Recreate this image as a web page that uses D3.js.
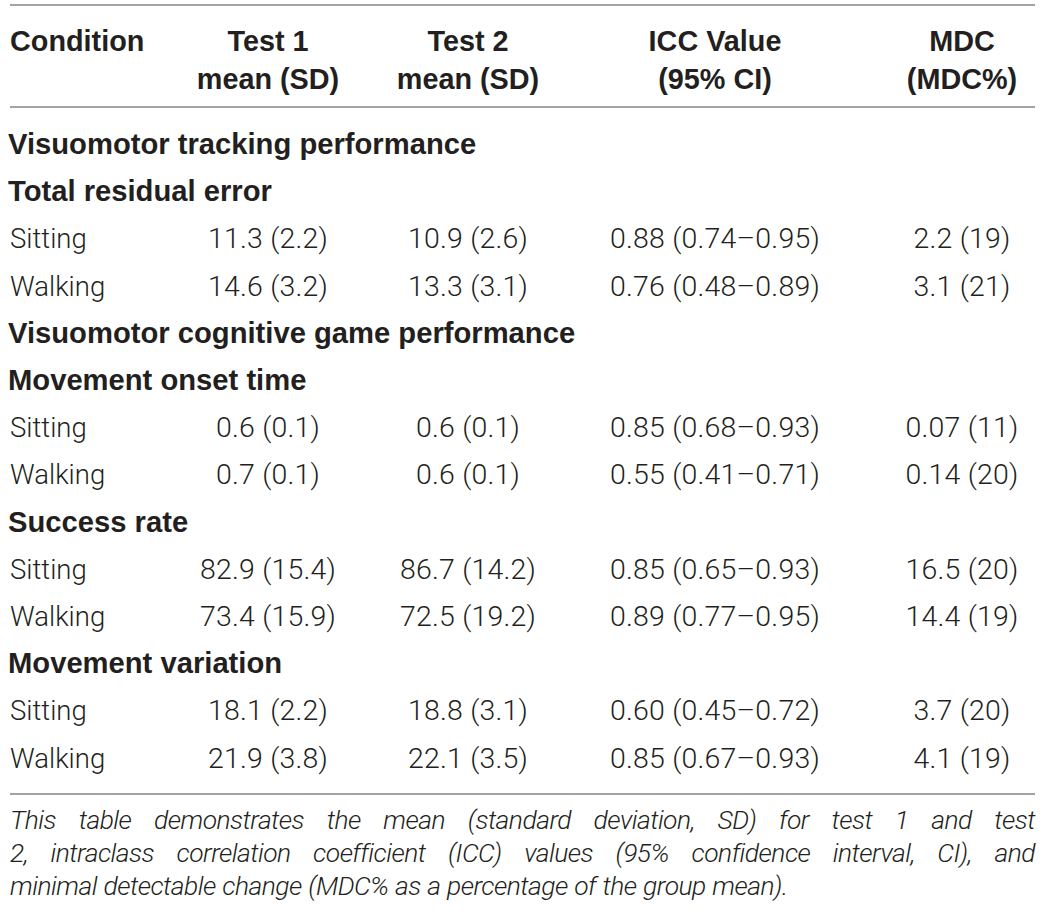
<!DOCTYPE html>
<html>
<head>
<meta charset="utf-8">
<script src="https://cdn.jsdelivr.net/npm/d3@7"></script>
<style>
  html, body { margin: 0; padding: 0; background: #fff; }
</style>
</head>
<body>
<div id="table-container"></div>
<script>
// -------------------- Data --------------------

const headerTop = ["Condition", "Test 1", "Test 2", "ICC Value", "MDC"];
const headerBottom = ["", "mean (SD)", "mean (SD)", "(95% CI)", "(MDC%)"];

const categories = ["Visuomotor tracking performance", "Visuomotor cognitive game performance"];
const measures = ["Total residual error", "Movement onset time", "Success rate", "Movement variation"];
// index of the category each measure belongs to
const measureCategory = [0, 1, 1, 1];
const conditions = ["Sitting", "Walking"];

// one pair [sitting, walking] per measure
const test1 = [["11.3 (2.2)", "14.6 (3.2)"], ["0.6 (0.1)", "0.7 (0.1)"], ["82.9 (15.4)", "73.4 (15.9)"], ["18.1 (2.2)", "21.9 (3.8)"]];
const test2 = [["10.9 (2.6)", "13.3 (3.1)"], ["0.6 (0.1)", "0.6 (0.1)"], ["86.7 (14.2)", "72.5 (19.2)"], ["18.8 (3.1)", "22.1 (3.5)"]];
const icc = [["0.88 (0.74–0.95)", "0.76 (0.48–0.89)"], ["0.85 (0.68–0.93)", "0.55 (0.41–0.71)"], ["0.85 (0.65–0.93)", "0.89 (0.77–0.95)"], ["0.60 (0.45–0.72)", "0.85 (0.67–0.93)"]];
const mdc = [["2.2 (19)", "3.1 (21)"], ["0.07 (11)", "0.14 (20)"], ["16.5 (20)", "14.4 (19)"], ["3.7 (20)", "4.1 (19)"]];

const captionLines = [
    "This table demonstrates the mean (standard deviation, SD) for test 1 and test",
    "2, intraclass correlation coefficient (ICC) values (95% confidence interval, CI), and",
    "minimal detectable change (MDC% as a percentage of the group mean)."
];

// -------------------- Layout --------------------

const WIDTH = 1045;
const HEIGHT = 918;
const LEFT = 10;
const RIGHT = 1035;
const INK = "#231f20";
const RULE = "#a3a3a3";
const BOLD_FONT = "'Liberation Sans', Arial, Helvetica, sans-serif";
const LIGHT_FONT = "'Roboto Light', Roboto, 'Open Sans', 'Liberation Sans', sans-serif";

const svg = d3.select("#table-container")
    .append("svg")
    .attr("width", WIDTH)
    .attr("height", HEIGHT)
    .attr("viewBox", [0, 0, WIDTH, HEIGHT]);

// Building the body rows out of the arrays
const rows = [];
measures.forEach((m, i) => {
    const cat = measureCategory[i];
    if (i === 0 || measureCategory[i - 1] !== cat) {
        rows.push({ type: "category", label: categories[cat] });
    }
    rows.push({ type: "measure", label: m });
    conditions.forEach((c, j) => {
        rows.push({ type: "value", label: c, cells: [test1[i][j], test2[i][j], icc[i][j], mdc[i][j]] });
    });
});

// Column centres and row baselines
const columns = headerTop.slice(1);
const xCol = d3.scaleOrdinal().domain(columns).range([268, 468, 715, 962]);
const yRow = d3.scaleLinear().domain([0, rows.length - 1]).range([154, 767.6]);
const yHead = d3.scaleLinear().domain([0, 1]).range([51, 89]);

// ***** RULES *****
svg.append("g")
    .attr("stroke", RULE)
    .attr("stroke-width", 2)
    .selectAll("line")
    .data([5, 107, 794])
    .join("line")
    .attr("x1", LEFT)
    .attr("x2", RIGHT)
    .attr("y1", d => d)
    .attr("y2", d => d);

// ***** HEADER *****
const head = svg.append("g")
    .attr("font-family", BOLD_FONT)
    .attr("font-weight", "bold")
    .attr("font-size", 28.8)
    .attr("fill", INK);

head.append("text")
    .attr("x", 10)
    .attr("y", yHead(0))
    .text(headerTop[0]);

columns.forEach((col, i) => {
    [headerTop[i + 1], headerBottom[i + 1]].forEach((t, k) => {
        head.append("text")
            .attr("x", xCol(col))
            .attr("y", yHead(k))
            .attr("text-anchor", "middle")
            .text(t);
    });
});

// ***** BODY *****
const body = svg.append("g").attr("fill", INK);

body.selectAll("text.label")
    .data(rows)
    .join("text")
    .attr("class", "label")
    .attr("x", d => d.type === "value" ? 10 : 8)
    .attr("y", (d, i) => yRow(i))
    .attr("font-family", d => d.type === "value" ? LIGHT_FONT : BOLD_FONT)
    .attr("font-weight", d => d.type === "value" ? 300 : "bold")
    .attr("font-size", d => d.type === "value" ? 27.5 : 29.2)
    .text(d => d.label);

const valueRows = rows.map((r, i) => ({ ...r, i })).filter(r => r.type === "value");
const cells = valueRows.flatMap(r => r.cells.map((v, k) => ({ v, col: columns[k], i: r.i })));

body.selectAll("text.cell")
    .data(cells)
    .join("text")
    .attr("class", "cell")
    .attr("x", d => xCol(d.col))
    .attr("y", d => yRow(d.i))
    .attr("text-anchor", "middle")
    .attr("font-family", LIGHT_FONT)
    .attr("font-weight", 300)
    .attr("font-size", 28.5)
    .attr("letter-spacing", 0.2)
    .text(d => d.v);

// ***** CAPTION *****
// Justified lines: words placed one by one so the gaps fill the width.
const cap = svg.append("g")
    .attr("font-family", LIGHT_FONT)
    .attr("font-weight", 300)
    .attr("font-style", "italic")
    .attr("font-size", 26.5)
    .attr("letter-spacing", -0.55)
    .attr("fill", INK);

const yCap = d3.scaleLinear().domain([0, 2]).range([829, 895]);

captionLines.forEach((line, li) => {
    const words = line.split(" ");
    const g = cap.append("g");
    const texts = words.map(w => g.append("text").attr("y", yCap(li)).text(w));
    const widths = texts.map(t => t.node().getComputedTextLength());
    const total = d3.sum(widths);
    const last = li === captionLines.length - 1;
    const gap = last ? 6.5 : (RIGHT - LEFT - total) / (words.length - 1);
    let x = LEFT;
    texts.forEach((t, k) => {
        t.attr("x", x);
        x += widths[k] + gap;
    });
});
</script>
</body>
</html>
